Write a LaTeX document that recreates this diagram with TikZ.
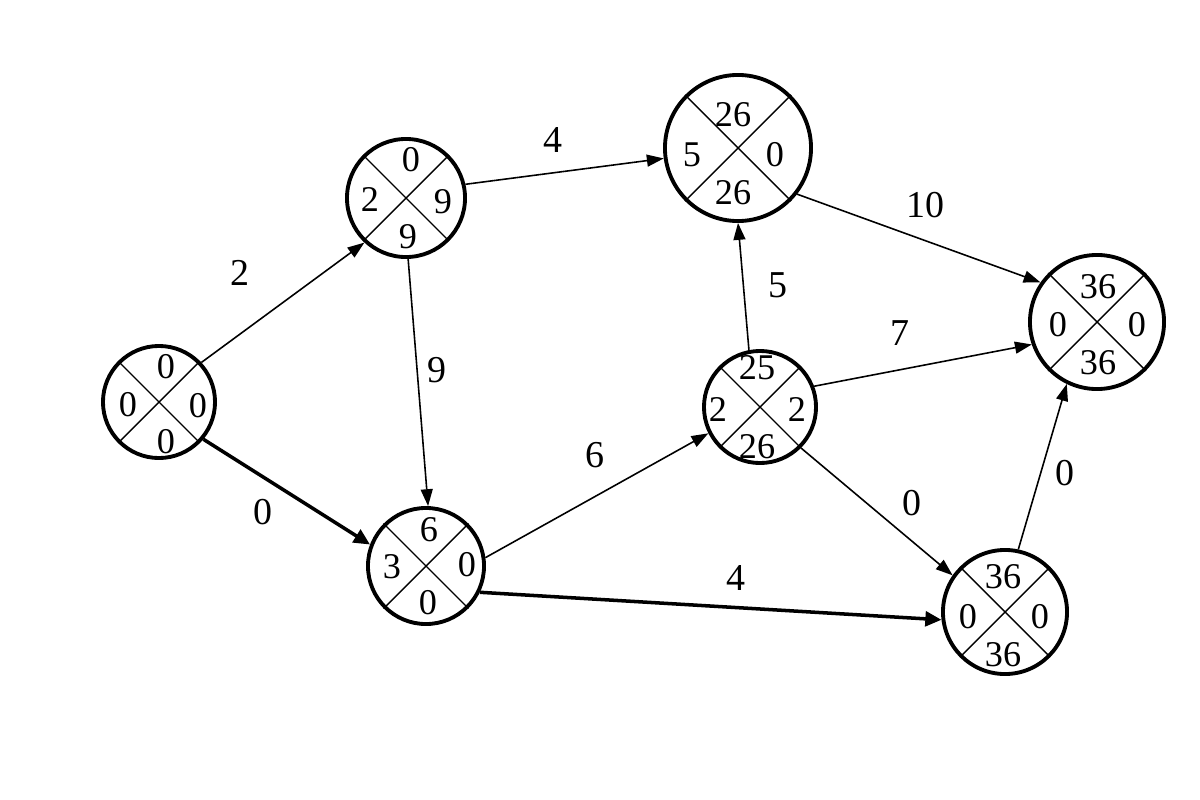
\documentclass[tikz,border=0pt]{standalone}
\usepackage{fontspec}
\setmainfont{Liberation Serif}
\usetikzlibrary{arrows.meta}
\begin{document}
\begin{tikzpicture}[x=0.01cm,y=-0.01cm,
  ev/.style={circle,draw,line width=1.1pt,inner sep=0pt,minimum size=#1},
  num/.style={font=\fontsize{10.3}{12}\selectfont,inner sep=0pt},
  lab/.style={font=\fontsize{10.8}{12}\selectfont,inner sep=0pt},
  act/.style={line width=0.45pt,-{Triangle[length=4.8pt,width=3.4pt]}},
  crit/.style={line width=1pt,-{Triangle[length=4.6pt,width=4.2pt]}},
  crossline/.style={line width=0.4pt}]
\useasboundingbox[fill=white] (0,0) rectangle (1200,800);

% event circles
\node[ev=1.12cm] (A) at (159,402) {};
\node[ev=1.18cm] (B) at (406,198) {};
\node[ev=1.16cm] (C) at (426,566) {};
\node[ev=1.46cm] (D) at (738,148) {};
\node[ev=1.12cm] (E) at (760,407) {};
\node[ev=1.34cm] (F) at (1097,322) {};
\node[ev=1.24cm] (G) at (1005,612) {};

% diagonals
\foreach \n in {A,B,C,D,E,F,G}{
  \draw[crossline] (\n.45) -- (\n.225) (\n.135) -- (\n.-45);
}

% numbers inside circles
\node[num] (At) at (166,367) {0};
\node[num] (Al) at (128,405) {0};
\node[num] (Ar) at (198,406) {0};
\node[num] (Ab) at (166,442) {0};

\node[num] (Bt) at (411,160) {0};
\node[num] (Bl) at (370,200) {2};
\node[num] (Br) at (443,202) {9};
\node[num] (Bb) at (408,237) {9};

\node[num] (Ct) at (429,530) {6};
\node[num] (Cl) at (392,567) {3};
\node[num] (Cr) at (467,565) {0};
\node[num] (Cb) at (428,603) {0};

\node[num] (Dt) at (733,115) {26};
\node[num] (Dl) at (692,155) {5};
\node[num] (Dr) at (775,155) {0};
\node[num] (Db) at (733,193) {26};

\node[num] (Et) at (757,368) {25};
\node[num] (El) at (718,410) {2};
\node[num] (Er) at (797,410) {2};
\node[num] (Eb) at (757,447) {26};

\node[num] (Ft) at (1098,287) {36};
\node[num] (Fl) at (1058,325) {0};
\node[num] (Fr) at (1137,325) {0};
\node[num] (Fb) at (1098,363) {36};

\node[num] (Gt) at (1003,577) {36};
\node[num] (Gl) at (968,617) {0};
\node[num] (Gr) at (1040,617) {0};
\node[num] (Gb) at (1003,655) {36};

% activities
\draw[act]  (A.43)   -- (B.227);
\draw[crit] (A.-40)  -- (C.159);
\draw[act]  (B.-88)  -- (C.88);
\draw[act]  (B.13)   -- (D.188);
\draw[act]  (C.8)    -- (E.207);
\draw[crit] (C.-26)  -- (G.187);
\draw[act]  (E.101)  -- (D.-90);
\draw[act]  (E.21)   -- (F.199);
\draw[act]  (E.-45)  -- (G.145);
\draw[act]  (D.-38)  -- (F.145);
\draw[act]  (G.78)   -- (F.244);

% activity labels
\node[lab] (lAB) at (240,273) {2};
\node[lab] (lAC) at (263,512) {0};
\node[lab] (lBC) at (437,370) {9};
\node[lab] (lBD) at (553,140) {4};
\node[lab] (lCE) at (595,455) {6};
\node[lab] (lCG) at (736,578) {4};
\node[lab] (lED) at (778,285) {5};
\node[lab] (lEF) at (900,333) {7};
\node[lab] (lEG) at (912,503) {0};
\node[lab] (lDF) at (925,205) {10};
\node[lab] (lGF) at (1065,473) {0};
\end{tikzpicture}
\end{document}
